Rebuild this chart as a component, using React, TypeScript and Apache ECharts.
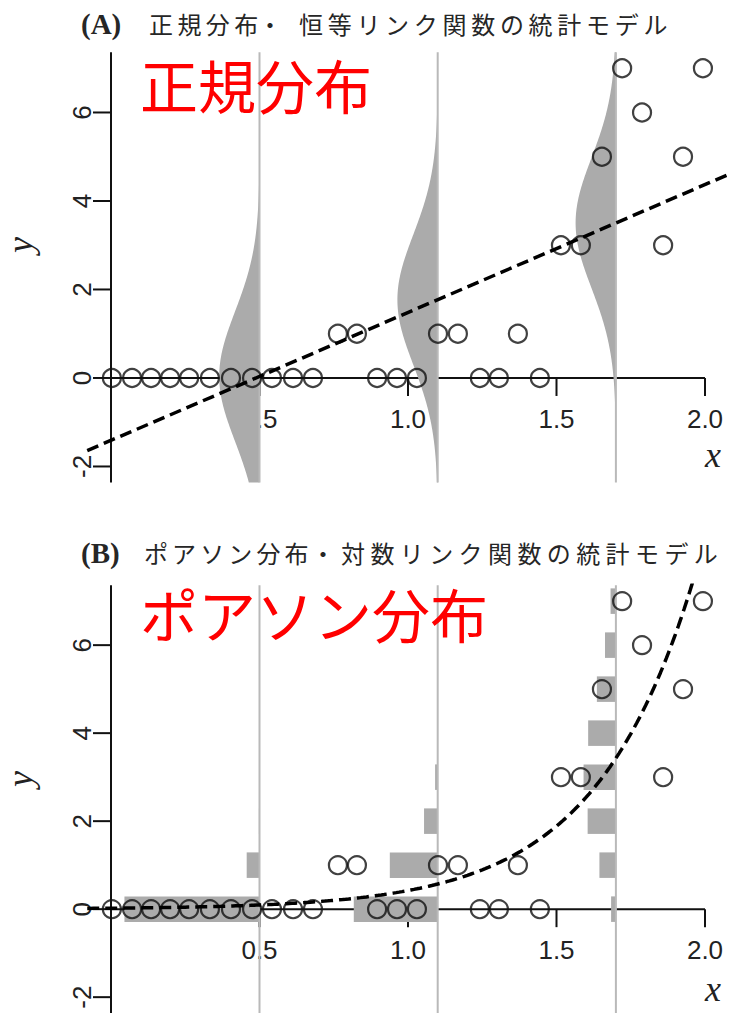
import React, { useEffect, useRef } from "react";
import * as echarts from "echarts";

const obsX = [
  0.003, 0.071, 0.135, 0.199, 0.263, 0.333, 0.404, 0.475, 0.542, 0.613, 0.68,
  0.896, 0.963, 1.03, 1.242, 1.306, 1.444,
  0.764, 0.828, 1.101, 1.168, 1.37,
  1.515, 1.582, 1.859,
  1.653, 1.926,
  1.788,
  1.721, 1.993,
];
const obsY = [
  0, 0, 0, 0, 0, 0, 0, 0, 0, 0, 0, 0, 0, 0, 0, 0, 0,
  1, 1, 1, 1, 1,
  3, 3, 3,
  5, 5,
  6,
  7, 7,
];

// ---- axes ----
const xTicks = [0.5, 1.0, 1.5, 2.0];
const xTickLabels = ["0.5", "1.0", "1.5", "2.0"];
const yTicks = [-2, 0, 2, 4, 6];
const yTickLabels = ["-2", "0", "2", "4", "6"];

// ---- fitted models ----
const slicePositions = [0.5, 1.1, 1.7];
const normalParams = [-1.41, 2.89, 1.47]; // intercept, slope, sigma
const poissonParams = [-3.85, 2.99]; // log-link intercept, slope
const poissonCounts = [0, 1, 2, 3, 4, 5, 6, 7];

const X_MIN = -0.08;
const X_MAX = 2.08;
const Y_MIN = -2.36;
const Y_MAX = 7.36;
const WIDTH_SCALE = 0.5;
const BAR_HALF = 0.29;

const titleA = ["(A)", "正規分布", "・", "恒等リンク関数の統計モデル"];
const titleB = ["(B)", "ポアソン分布", "・", "対数リンク関数の統計モデル"];
const redA = "正規分布";
const redB = "ポアソン分布";

function dnorm(y: number, mu: number, s: number) {
  return Math.exp(-((y - mu) ** 2) / (2 * s * s)) / (s * Math.sqrt(2 * Math.PI));
}
function dpois(k: number, lam: number) {
  let f = 1;
  for (let i = 2; i <= k; i++) f *= i;
  return (Math.exp(-lam) * Math.pow(lam, k)) / f;
}

const LABEL_FONT = "Liberation Sans, Arial, sans-serif";
const CJK_FONT = "Noto Sans CJK JP, sans-serif";
const SERIF = "Liberation Serif, DejaVu Serif, serif";

function axesRender(params: any, api: any) {
  const c = (x: number, y: number) => api.coord([x, y]);
  const children: any[] = [];
  const o = c(0, 0);
  const e = c(2, 0);
  children.push({
    type: "line",
    shape: { x1: o[0], y1: o[1], x2: e[0], y2: e[1] },
    style: { stroke: "#111", lineWidth: 2 },
  });
  xTicks.forEach((t, i) => {
    const p = c(t, 0);
    children.push({
      type: "line",
      shape: { x1: p[0], y1: p[1], x2: p[0], y2: p[1] + 18 },
      style: { stroke: "#111", lineWidth: 2 },
    });
    children.push({
      type: "text",
      x: p[0],
      y: p[1] + 41,
      style: {
        text: xTickLabels[i],
        fontSize: 26,
        fontFamily: LABEL_FONT,
        fill: "#222",
        align: "center",
        verticalAlign: "middle",
        textAlign: "center",
        textVerticalAlign: "middle",
      },
    });
  });
  const top = c(0, Y_MAX);
  const bot = c(0, Y_MIN);
  children.push({
    type: "line",
    shape: { x1: top[0], y1: top[1], x2: bot[0], y2: bot[1] },
    style: { stroke: "#111", lineWidth: 2 },
  });
  yTicks.forEach((t, i) => {
    const p = c(0, t);
    children.push({
      type: "line",
      shape: { x1: p[0] - 18, y1: p[1], x2: p[0], y2: p[1] },
      style: { stroke: "#111", lineWidth: 2 },
    });
    children.push({
      type: "text",
      x: p[0] - 29,
      y: p[1],
      rotation: Math.PI / 2,
      style: {
        text: yTickLabels[i],
        fontSize: 26,
        fontFamily: LABEL_FONT,
        fill: "#222",
        align: "center",
        verticalAlign: "middle",
        textAlign: "center",
        textVerticalAlign: "middle",
      },
    });
  });
  return { type: "group", children };
}

function sliceLines(api: any) {
  return slicePositions.map((x0) => {
    const t = api.coord([x0, Y_MAX]);
    const b = api.coord([x0, Y_MIN]);
    return {
      type: "line",
      shape: { x1: t[0], y1: t[1], x2: b[0], y2: b[1] },
      style: { stroke: "#b9b9b9", lineWidth: 2 },
    };
  });
}

function densityRender(params: any, api: any) {
  const [a, b, s] = normalParams;
  const children: any[] = [];
  const steps = 300;
  slicePositions.forEach((x0) => {
    const mu = a + b * x0;
    const pts: number[][] = [];
    for (let i = 0; i <= steps; i++) {
      const y = Y_MIN + ((Y_MAX - Y_MIN) * i) / steps;
      pts.push(api.coord([x0 - WIDTH_SCALE * dnorm(y, mu, s), y]));
    }
    pts.push(api.coord([x0, Y_MAX]));
    pts.push(api.coord([x0, Y_MIN]));
    children.push({ type: "polygon", shape: { points: pts }, style: { fill: "#ababab" } });
  });
  return { type: "group", children: children.concat(sliceLines(api)) };
}

function barsRender(params: any, api: any) {
  const [b1, b2] = poissonParams;
  const children: any[] = [];
  slicePositions.forEach((x0) => {
    const lam = Math.exp(b1 + b2 * x0);
    poissonCounts.forEach((k) => {
      const p = dpois(k, lam);
      const tl = api.coord([x0 - WIDTH_SCALE * p, k + BAR_HALF]);
      const br = api.coord([x0, k - BAR_HALF]);
      children.push({
        type: "rect",
        shape: { x: tl[0], y: tl[1], width: br[0] - tl[0], height: br[1] - tl[1] },
        style: { fill: "#ababab" },
      });
    });
  });
  return { type: "group", children: children.concat(sliceLines(api)) };
}

function textEl(text: string, x: number, y: number, font: any, align = "left", extra: any = {}) {
  return {
    type: "text",
    x,
    y,
    z: 20,
    ...extra,
    style: {
      text,
      ...font,
      align,
      verticalAlign: "middle",
      textAlign: align,
      textVerticalAlign: "middle",
    },
  };
}

function charRow(text: string, x0: number, pitch: number, y: number, font: any) {
  return text.split("").map((ch, i) => textEl(ch, x0 + i * pitch, y, font));
}

export default function App() {
  const ref = useRef<HTMLDivElement>(null);
  useEffect(() => {
    document.body.style.margin = "0";
    if (!ref.current) return;
    const chart = echarts.init(ref.current, null, { renderer: "svg" });

    const pts = obsX.map((x, i) => [x, obsY[i]]);
    const [na, nb] = normalParams;
    const normalLine = [
      [X_MIN, na + nb * X_MIN],
      [X_MAX, na + nb * X_MAX],
    ];
    const poisCurve: number[][] = [];
    for (let i = 0; i <= 216; i++) {
      const x = X_MIN + (X_MAX - X_MIN) * (i / 216);
      poisCurve.push([x, Math.exp(poissonParams[0] + poissonParams[1] * x)]);
    }

    const gridLeft = 87.24;
    const gridWidth = 641.52;
    const gridHeight = 430.1;

    const titleFont = { fontSize: 24, lineHeight: 24, fontFamily: CJK_FONT, fill: "#262626" };
    const serifTitle = { fontSize: 29, lineHeight: 29, fontFamily: SERIF, fontWeight: "bold", fill: "#262626" };
    const redFont = { fontSize: 58, lineHeight: 58, fontFamily: CJK_FONT, fill: "#ff0000" };
    const axisTitle = { fontSize: 36, lineHeight: 36, fontFamily: SERIF, fontStyle: "italic", fill: "#222" };

    const graphics: any[] = [
      textEl(titleA[0], 81, 24, serifTitle),
      ...charRow(titleA[1], 149, 28.4, 23, titleFont),
      textEl(titleA[2], 258, 23, titleFont),
      ...charRow(titleA[3], 299, 28.7, 23, titleFont),
      textEl(titleB[0], 81, 553, serifTitle),
      ...charRow(titleB[1], 144, 28.1, 552, titleFont),
      textEl(titleB[2], 311, 552, titleFont),
      ...charRow(titleB[3], 341, 29.4, 552, titleFont),
      textEl(redA, 140, 84, redFont),
      textEl(redB, 140, 613, redFont),
      textEl("x", 713, 455, axisTitle, "center"),
      textEl("x", 713, 989, axisTitle, "center"),
      textEl("y", 20, 245, axisTitle, "center", { rotation: Math.PI / 2 }),
      textEl("y", 20, 779, axisTitle, "center", { rotation: Math.PI / 2 }),
    ];

    const scatterStyle = {
      symbol: "circle",
      symbolSize: 18,
      itemStyle: { color: "rgba(0,0,0,0)", borderColor: "#111", borderWidth: 2.2 },
      z: 5,
      silent: true,
    };
    const dashStyle = { color: "#000", width: 3.5, type: [12, 6] as any };

    chart.setOption({
      animation: false,
      backgroundColor: "#ffffff",
      grid: [
        { left: gridLeft, top: 52.3, width: gridWidth, height: gridHeight },
        { left: gridLeft, top: 585.3, width: gridWidth, height: gridHeight },
      ],
      xAxis: [0, 1].map((g) => ({ gridIndex: g, type: "value", min: X_MIN, max: X_MAX, show: false })),
      yAxis: [0, 1].map((g) => ({ gridIndex: g, type: "value", min: Y_MIN, max: Y_MAX, show: false })),
      graphic: { elements: graphics },
      series: [
        { type: "custom", xAxisIndex: 0, yAxisIndex: 0, data: [[0, 0]], renderItem: axesRender, z: 1, silent: true },
        { type: "custom", xAxisIndex: 1, yAxisIndex: 1, data: [[0, 0]], renderItem: axesRender, z: 1, silent: true },
        { type: "custom", xAxisIndex: 0, yAxisIndex: 0, data: [[0, 0]], renderItem: densityRender, z: 3, silent: true },
        { type: "custom", xAxisIndex: 1, yAxisIndex: 1, data: [[0, 0]], renderItem: barsRender, z: 3, silent: true },
        { type: "scatter", xAxisIndex: 0, yAxisIndex: 0, data: pts, ...scatterStyle },
        { type: "scatter", xAxisIndex: 1, yAxisIndex: 1, data: pts, ...scatterStyle },
        {
          type: "line", xAxisIndex: 0, yAxisIndex: 0, data: normalLine, symbol: "none",
          lineStyle: dashStyle, z: 6, silent: true, clip: true,
        },
        {
          type: "line", xAxisIndex: 1, yAxisIndex: 1, data: poisCurve, symbol: "none",
          lineStyle: dashStyle, z: 6, silent: true, clip: true,
        },
      ],
    });
    return () => chart.dispose();
  }, []);
  return <div ref={ref} style={{ width: 735, height: 1013 }} />;
}
